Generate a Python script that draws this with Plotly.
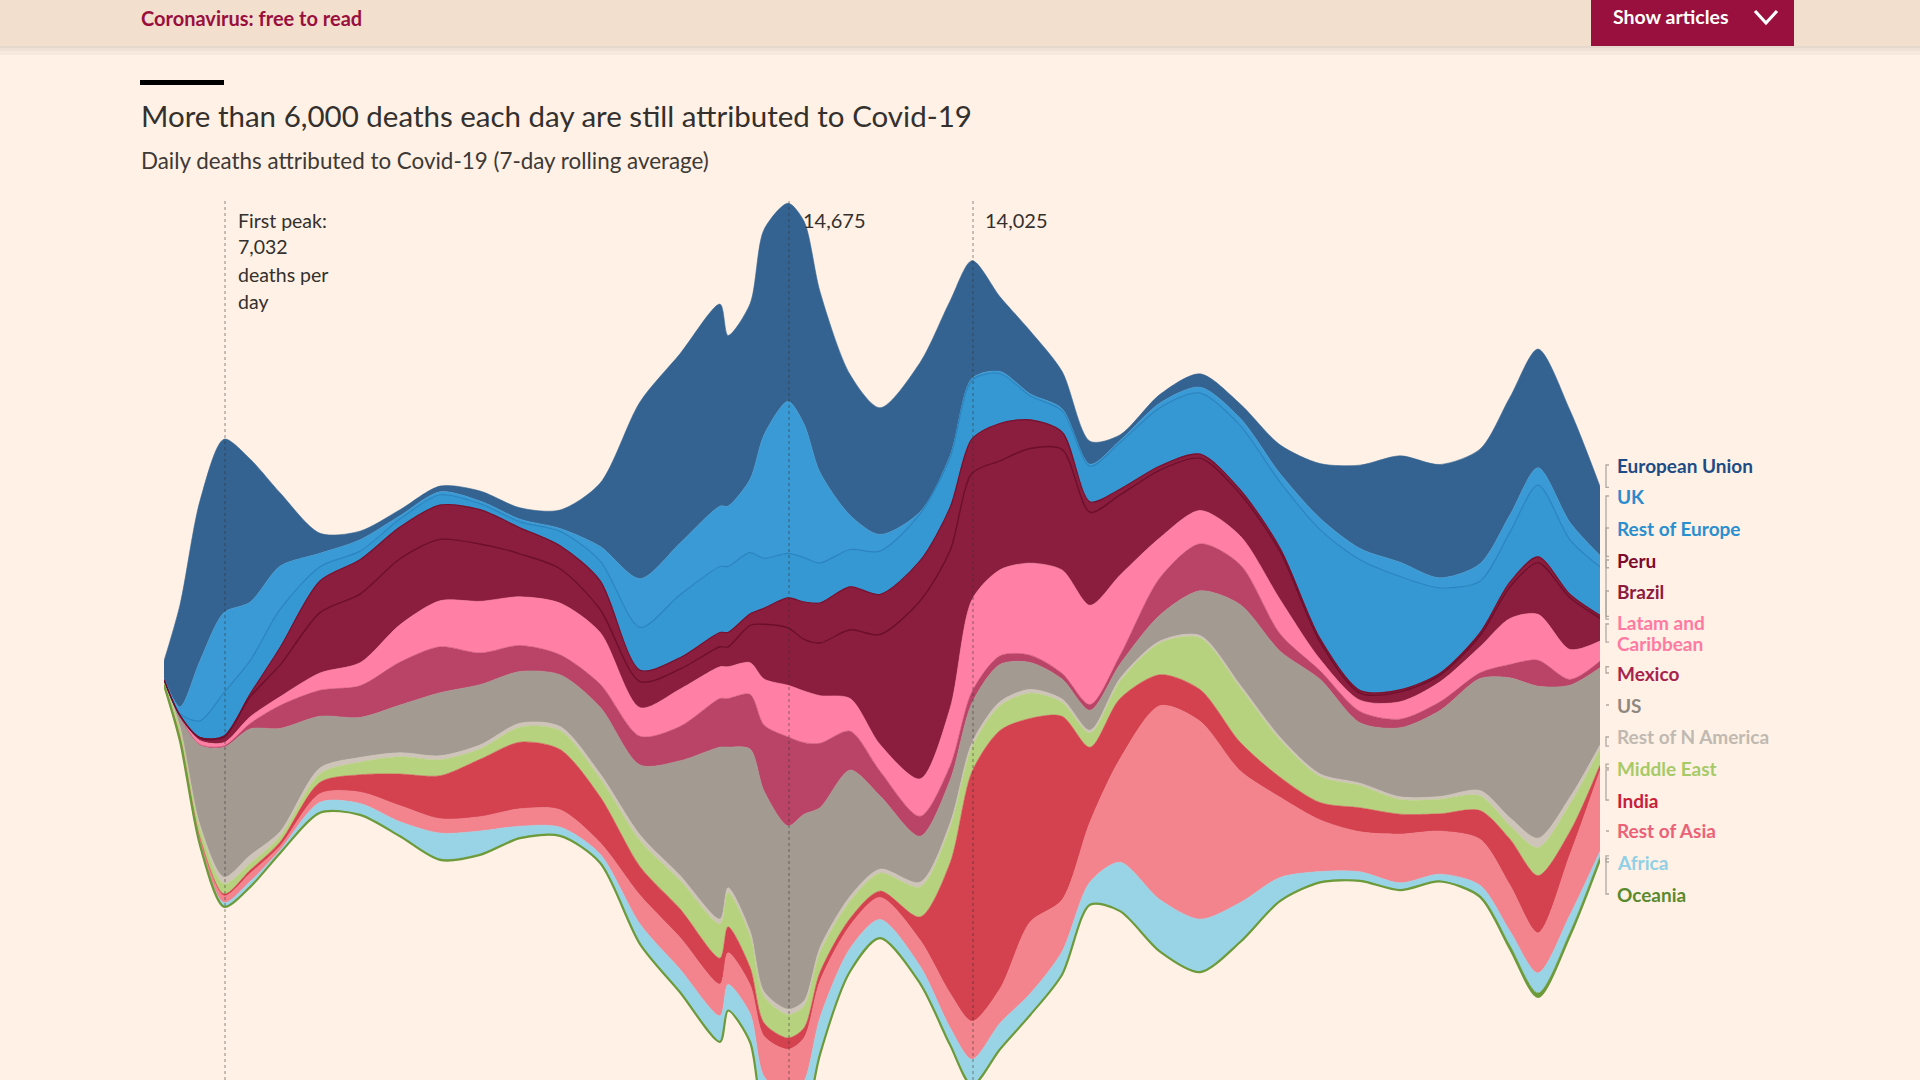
import numpy as np
import plotly.graph_objects as go

# ---------------- data (7-day average daily deaths) ----------------
dates = [
    "2020-03-18", "2020-03-26", "2020-04-05", "2020-04-17", "2020-04-30", "2020-05-15",
    "2020-06-04", "2020-06-24", "2020-07-14", "2020-08-03", "2020-08-23", "2020-09-12",
    "2020-10-02", "2020-10-22", "2020-11-11", "2020-12-01", "2020-12-21", "2020-12-25",
    "2021-01-05", "2021-01-12", "2021-01-24", "2021-02-01", "2021-02-09", "2021-02-24",
    "2021-03-11", "2021-03-31",
    "2021-04-15", "2021-04-26", "2021-05-10", "2021-05-25", "2021-06-10", "2021-06-24",
    "2021-07-09", "2021-07-29", "2021-08-18", "2021-09-07", "2021-09-27", "2021-10-17",
    "2021-11-06", "2021-11-26", "2021-12-16", "2022-01-05", "2022-01-20", "2022-02-03",
    "2022-02-19", "2022-03-06",
]

european_union = [260, 1530, 2400, 2600, 2150, 1100, 300, 130, 90, 85, 150, 170, 275, 945, 2650,
                  2840, 3030, 2560, 2630, 3080, 2970, 3040, 2710, 2110, 1900, 2240, 2320, 1765, 1120,
                  945, 560, 345, 85, 130, 200, 215, 430, 820, 1250, 1595, 1700, 1720, 1765, 1780,
                  1680, 1035]
uk = [15, 100, 900, 1200, 880, 650, 200, 170, 50, 45, 40, 40, 45, 215, 730, 775, 905, 905, 1100,
      1850, 2280, 2005, 1360, 515, 250, 30, 30, 30, 30, 30, 30, 30, 30, 70, 90, 110, 130, 170, 170,
      215, 150, 260, 260, 260, 260, 170]
rest_of_europe = [5, 30, 250, 650, 500, 575, 215, 130, 120, 155, 90, 90, 215, 300, 645, 945, 990,
                  990, 920, 750, 670, 665, 600, 560, 650, 705, 750, 880, 750, 360, 320, 535, 700, 875,
                  915, 965, 990, 1635, 1960, 1700, 1280, 775, 750, 1077, 820, 730]
peru = [0, 2, 5, 20, 40, 260, 475, 515, 475, 515, 515, 390, 345, 430, 170, 170, 215, 215, 170, 240,
        450, 560, 600, 645, 600, 600, 645, 515, 560, 430, 260, 155, 85, 60, 60, 60, 50, 50, 40, 30,
        30, 40, 70, 86, 50, 40]
brazil = [0, 10, 40, 80, 300, 475, 905, 1030, 990, 920, 860, 645, 515, 345, 390, 300, 300, 300, 560,
          820, 860, 775, 790, 1030, 1650, 2670, 2370, 1895, 1635, 1720, 1810, 1395, 1205, 1015, 785,
          630, 720, 260, 105, 150, 100, 170, 475, 775, 775, 345]
latam_caribbean = [2, 10, 60, 50, 100, 130, 260, 345, 560, 690, 775, 730, 775, 775, 430, 560, 475,
                   475, 475, 690, 775, 775, 715, 490, 400, 560, 860, 1380, 1290, 1380, 1550, 1490,
                   1205, 600, 500, 430, 515, 170, 170, 260, 300, 390, 690, 690, 450, 300]
mexico = [0, 2, 10, 20, 80, 345, 390, 475, 645, 690, 475, 390, 300, 345, 430, 515, 730, 730, 820,
          990, 1335, 1075, 965, 585, 370, 300, 215, 170, 130, 110, 85, 85, 130, 560, 705, 600, 260,
          130, 170, 130, 130, 86, 200, 390, 86, 100]
us = [15, 150, 1200, 1950, 1900, 1550, 775, 600, 715, 945, 905, 775, 775, 1000, 1050, 1720, 2580,
      2110, 2730, 3010, 2750, 2800, 2100, 1895, 1100, 690, 645, 600, 560, 405, 300, 300, 215, 390,
      670, 1205, 1290, 1420, 905, 1035, 1290, 1680, 2100, 2280, 1680, 1160]
rest_of_n_america = [2, 5, 40, 100, 120, 70, 85, 70, 60, 60, 60, 60, 60, 70, 85, 70, 70, 70, 70, 70,
                     80, 75, 70, 70, 60, 70, 60, 60, 60, 55, 50, 40, 40, 30, 35, 40, 40, 40, 35, 40,
                     40, 80, 120, 140, 100, 60]
middle_east = [50, 140, 150, 150, 100, 85, 130, 190, 260, 240, 155, 225, 285, 275, 390, 430, 515,
               515, 475, 400, 350, 330, 300, 260, 270, 450, 535, 370, 370, 380, 210, 215, 260, 475,
               775, 820, 560, 390, 335, 220, 220, 220, 200, 420, 415, 240]
india = [0, 3, 8, 30, 50, 60, 170, 260, 475, 645, 860, 1000, 905, 690, 430, 430, 390, 390, 260, 200,
         170, 150, 130, 105, 95, 345, 1950, 3745, 3875, 3055, 2755, 1120, 905, 465, 475, 430, 300,
         260, 360, 300, 260, 430, 690, 860, 345, 86]
rest_of_asia = [10, 50, 80, 100, 120, 60, 130, 170, 240, 215, 215, 260, 260, 170, 430, 475, 475, 475,
                430, 600, 700, 650, 550, 345, 330, 390, 515, 570, 515, 1075, 775, 900, 1550, 2910,
                2970, 1980, 1205, 775, 600, 730, 645, 690, 690, 600, 905, 1205]
africa = [2, 10, 20, 60, 80, 45, 155, 170, 215, 390, 345, 170, 130, 130, 300, 345, 390, 390, 430, 600,
          700, 650, 550, 345, 280, 260, 260, 390, 390, 320, 345, 340, 730, 775, 790, 585, 345, 155,
          130, 105, 105, 155, 215, 300, 260, 86]
oceania = [0, 1, 2, 3, 2, 1, 1, 1, 3, 12, 15, 10, 3, 2, 1, 1, 1, 1, 1, 1, 1, 1, 1, 1, 1, 1, 1, 1, 1,
           1, 1, 2, 3, 4, 5, 8, 10, 8, 6, 5, 5, 20, 50, 60, 50, 40]

peak_first = "2020-04-17 12:00"
peak_jan = "2021-01-24 12:00"
peak_apr = "2021-04-26 12:00"

# ---------------- layout constants ----------------
W, H = 1920, 1080
L, R, T, B = 164, 320, 150, 0
PW, PH = W - L - R, H - T - B
Y_MIN, Y_MAX = -6105, 7845
BG = "#fff1e5"
INK = "#33302e"
FONT = "Lato"


def px(x):
    return (x - L) / PW


def py(y):
    return (H - B - y) / PH


def ypix(v):
    return T + (Y_MAX - v) / (Y_MAX - Y_MIN) * PH


# bottom -> top stacking order: (label, values, fill colour, label colour)
layers = [
    ("Oceania", oceania, "#6d9a3a", "#5b8a2d"),
    ("Africa", africa, "#99d4e6", "#8fd0e6"),
    ("Rest of Asia", rest_of_asia, "#f3848e", "#eb6278"),
    ("India", india, "#d44250", "#c8203a"),
    ("Middle East", middle_east, "#b6d27e", "#a6ca68"),
    ("Rest of N America", rest_of_n_america, "#cec4b9", "#c0b9b1"),
    ("US", us, "#a39a92", "#8f8880"),
    ("Mexico", mexico, "#ba4468", "#a6234d"),
    ("Latam and Caribbean", latam_caribbean, "#ff80a4", "#ff7aa2"),
    ("Brazil", brazil, "#8b1e3e", "#8d1a3f"),
    ("Peru", peru, "#8b1e3e", "#7b0c2d"),
    ("Rest of Europe", rest_of_europe, "#3598d2", "#2a8fcf"),
    ("UK", uk, "#3a9ad5", "#2b8bcd"),
    ("European Union", european_union, "#346391", "#1d4b84"),
]

vals = np.array([np.asarray(v, dtype=float) for _, v, _, _ in layers])
total = vals.sum(axis=0)
base = -total / 2.0                      # silhouette offset (centred stream)
upper = base + np.cumsum(vals, axis=0)
lower = np.vstack([base, upper[:-1]])

SPL = dict(shape="spline", smoothing=0.8)
fig = go.Figure()
fig.add_trace(go.Scatter(x=dates, y=base, mode="lines", line=dict(width=0, **SPL),
                         hoverinfo="skip", showlegend=False))
for i, (name, v, col, _) in enumerate(layers):
    fig.add_trace(go.Scatter(x=dates, y=upper[i], mode="lines", fill="tonexty", fillcolor=col,
                             line=dict(color=col, width=0.6, **SPL), name=name,
                             hoverinfo="skip", showlegend=False))

# boundary lines drawn on top
names = [l[0] for l in layers]


def add_edge(y, color, width):
    fig.add_trace(go.Scatter(x=dates, y=y, mode="lines", line=dict(color=color, width=width, **SPL),
                             hoverinfo="skip", showlegend=False))


add_edge(upper[names.index("Rest of Europe")], "#2b84bf", 1.2)
add_edge(upper[names.index("Peru")], "#76112f", 1.2)
add_edge(upper[names.index("Brazil")], "#6c0e2c", 1.4)
add_edge(base, "#6d9a3a", 2.2)

shapes = []
annotations = []

# header bar
shapes.append(dict(type="rect", xref="paper", yref="paper", x0=px(0), x1=px(W), y0=py(46), y1=py(0),
                   fillcolor="#f2dfce", line=dict(width=0), layer="below"))
for y0, y1, a in [(46, 48, 0.10), (48, 51, 0.06), (51, 55, 0.03)]:
    shapes.append(dict(type="rect", xref="paper", yref="paper", x0=px(0), x1=px(W), y0=py(y1), y1=py(y0),
                       fillcolor="rgba(0,0,0,%s)" % a, line=dict(width=0), layer="below"))
shapes.append(dict(type="rect", xref="paper", yref="paper", x0=px(1591), x1=px(1794), y0=py(46), y1=py(0),
                   fillcolor="#990f3d", line=dict(width=0), layer="below"))
shapes.append(dict(type="path", xref="paper", yref="paper",
                   path="M %f,%f L %f,%f L %f,%f" % (px(1755), py(11), px(1766), py(23), px(1777), py(11)),
                   line=dict(color="white", width=3.2)))
annotations.append(dict(text="<b>Coronavirus: free to read</b>", xref="paper", yref="paper", x=px(139), y=py(18),
                        xanchor="left", yanchor="middle", showarrow=False,
                        font=dict(family=FONT, size=20, color="#990f3d")))
annotations.append(dict(text="<b>Show articles</b>", xref="paper", yref="paper", x=px(1611), y=py(17),
                        xanchor="left", yanchor="middle", showarrow=False,
                        font=dict(family=FONT, size=19.5, color="white")))

# title block
shapes.append(dict(type="rect", xref="paper", yref="paper", x0=px(140), x1=px(224), y0=py(85), y1=py(80),
                   fillcolor="#000000", line=dict(width=0)))
annotations.append(dict(text="More than 6,000 deaths each day are still attributed to Covid-19",
                        xref="paper", yref="paper", x=px(139), y=py(115), xanchor="left", yanchor="middle",
                        showarrow=False, font=dict(family=FONT, size=29.5, color=INK)))
annotations.append(dict(text="Daily deaths attributed to Covid-19 (7-day rolling average)",
                        xref="paper", yref="paper", x=px(139), y=py(160), xanchor="left", yanchor="middle",
                        showarrow=False, font=dict(family=FONT, size=22.4, color="#3d3936")))

# peak markers
for d in (peak_first, peak_jan, peak_apr):
    shapes.append(dict(type="line", xref="x", yref="paper", x0=d, x1=d, y0=0, y1=py(200),
                       line=dict(color="rgba(51,48,46,0.55)", width=1, dash="dot"), layer="above"))
for i, t in enumerate(["First peak:", "7,032", "deaths per", "day"]):
    annotations.append(dict(text=t, xref="paper", yref="paper", x=px(236), y=py(220 + 27 * i),
                            xanchor="left", yanchor="middle", showarrow=False,
                            font=dict(family=FONT, size=19.5, color=INK)))
annotations.append(dict(text="14,675", xref="paper", yref="paper", x=px(801), y=py(220), xanchor="left",
                        yanchor="middle", showarrow=False, font=dict(family=FONT, size=20, color=INK)))
annotations.append(dict(text="14,025", xref="paper", yref="paper", x=px(983), y=py(220), xanchor="left",
                        yanchor="middle", showarrow=False, font=dict(family=FONT, size=20, color=INK)))

# right-hand labels with connectors
label_rows = {
    "European Union": [465], "UK": [496], "Rest of Europe": [528], "Peru": [560], "Brazil": [591],
    "Latam and Caribbean": [622, 643], "Mexico": [673], "US": [705], "Rest of N America": [737],
    "Middle East": [768], "India": [800], "Rest of Asia": [831], "Africa": [862], "Oceania": [894],
}
for i, (name, v, col, lcol) in enumerate(layers):
    rows = label_rows[name]
    texts = ["Latam and", "Caribbean"] if len(rows) == 2 else [name]
    for t, yy in zip(texts, rows):
        annotations.append(dict(text="<b>%s</b>" % t, xref="paper", yref="paper", x=px(1615), y=py(yy),
                                xanchor="left", yanchor="middle", showarrow=False,
                                font=dict(family=FONT, size=19, color=lcol)))
    ly = rows[0] if len(rows) == 1 else rows[0] + 2
    top_px = ypix(upper[i][-1]) + 1
    bot_px = ypix(lower[i][-1]) - 1
    target = min(max(ly, top_px), bot_px) if top_px <= bot_px else (top_px + bot_px) / 2
    xa, xb = px(1606), px(1609)
    shapes.append(dict(type="path", xref="paper", yref="paper",
                       path="M %f,%f L %f,%f L %f,%f L %f,%f" % (xb, py(ly), xa, py(ly), xa, py(target), xb, py(target)),
                       line=dict(color="#b0a9a2", width=1.3)))

fig.update_layout(
    width=W, height=H, margin=dict(l=L, r=R, t=T, b=B, pad=0),
    paper_bgcolor=BG, plot_bgcolor="rgba(0,0,0,0)", showlegend=False,
    xaxis=dict(type="date", range=[dates[0], dates[-1]], visible=False, fixedrange=True),
    yaxis=dict(range=[Y_MIN, Y_MAX], visible=False, fixedrange=True),
    shapes=shapes, annotations=annotations, hovermode=False,
    font=dict(family=FONT, color=INK),
)

fig.write_html("out.html", include_plotlyjs=True, config={"displayModeBar": False, "staticPlot": True})
